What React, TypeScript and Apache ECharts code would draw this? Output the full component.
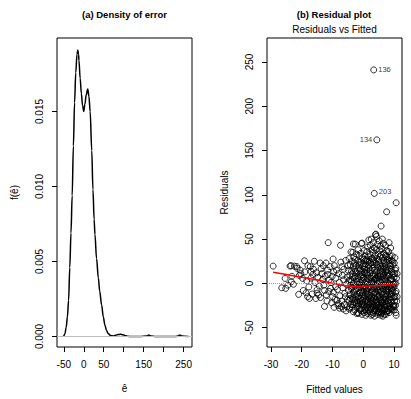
import React, { useEffect, useRef } from "react";
import * as echarts from "echarts";

// ---------- Panel (a): density of error ----------
const densityX = [
  -52, -50, -47, -44, -41, -38, -35, -32, -29, -26, -23, -20, -17, -15, -13, -12, -9, -6, -3, 0,
  3, 6, 10, 13, 16, 20, 23, 26, 28, 32, 36.5, 40, 44.7, 49, 53, 57, 61, 67, 74, 80, 86, 92, 98,
  104, 110, 120, 140, 158, 163, 168, 180, 230, 236, 240, 245, 262,
];
const densityY = [
  0, 0.00003, 0.0002, 0.0006, 0.0013, 0.0024, 0.0046, 0.0069, 0.0094, 0.0127, 0.0156, 0.0176,
  0.0188, 0.0191, 0.0188, 0.0184, 0.0172, 0.0162, 0.0154, 0.015, 0.0155, 0.0161, 0.0165, 0.016,
  0.015, 0.0124, 0.0098, 0.0078, 0.0068, 0.0052, 0.0039, 0.003, 0.0021, 0.0013, 0.00075, 0.0004,
  0.0002, 0.00006, 0.00004, 0.00008, 0.00013, 0.00015, 0.00012, 0.00005, 0.00001, 0, 0, 0.00003,
  0.0001, 0.00003, 0, 0, 0.00004, 0.0001, 0.00004, 0,
];
const densityXTicks = [-50, 0, 50, 100, 150, 200, 250];
const densityXLabels = [-50, 0, 50, 150, 250];
const densityYTicks = [0, 0.005, 0.01, 0.015];

// ---------- Panel (b): residuals vs fitted ----------
const residualPoints: [number, number][] = [
  // sparse left part
  [-29.3, 19.5], [-26.5, -5], [-25.4, 5.6], [-25.2, -5.6], [-24.5, -2], [-23.8, 19.5], [-23.5, 20],
  [-23.4, 1.8], [-23.2, 8], [-22.7, -1], [-22.4, 19.5], [-21.6, 19], [-21.5, 17], [-21.0, -12.4],
  [-20.5, 15], [-20.3, 11], [-20.8, 9], [-19.7, 5.6], [-19.5, -8], [-19.1, 25.5], [-19.0, 13],
  [-18.6, -10.6], [-18.4, 3], [-18.1, -15], [-18.0, 20], [-17.7, -4], [-17.5, -17], [-17.2, 19],
  [-17.0, 13.5], [-17.0, 6], [-16.6, -12], [-16.4, 10], [-16.2, 16], [-15.9, 25], [-15.7, 1],
  [-15.4, -17], [-15.2, 12], [-15.0, -7], [-15.0, -11], [-14.7, 7], [-14.5, -13], [-14.3, -3],
  [-14.0, 23], [-13.9, -16], [-13.7, 16.5], [-13.5, 11], [-13.2, 4.5], [-13.0, 20], [-12.8, -2],
  [-12.6, -8], [-12.6, -26], [-12.4, 8], [-12.1, 23], [-12.0, -13], [-11.8, -20], [-11.6, 15],
  [-11.5, 10], [-11.4, 46], [-11.2, -9], [-11.1, 4], [-10.8, 19], [-10.6, -5.6], [-10.5, 1],
  [-10.3, -22], [-10.1, 8], [-10.0, -15], [-9.8, 27.5], [-9.7, -10], [-9.6, 13], [-9.5, -27],
  [-9.4, 20], [-9.2, -18], [-9.0, -3.7], [-8.9, 6], [-8.7, 15], [-8.5, -19], [-8.4, -7],
  [-8.2, -25], [-8.0, -23], [-8.0, 11], [-7.8, 1], [-7.7, -28], [-7.6, -14], [-7.4, 43],
  [-7.3, 24], [-7.1, -26], [-7.0, -20], [-6.9, 19], [-6.8, 9], [-6.6, -5], [-6.5, -29], [-6.4, 4],
  [-6.3, 16], [-6.1, -24], [-6.0, -11], [-5.8, -15], [-5.7, 26], [-5.6, -31], [-5.5, -1],
  [-5.3, -26.5], [-5.3, 7], [-5.1, -18], [-5.0, 20],
  // dense part
  [-4.6, 28], [-4.2, 21], [-4.9, 15], [-4.4, 9], [-4.7, 3], [-4.1, -2], [-4.8, -8], [-4.3, -13],
  [-4.6, -19], [-4.0, -24], [-4.5, -29], [-3.8, 14], [-3.9, -6], [-4.0, 35.5],
  [-3.4, 35], [-3.1, 30], [-3.6, 25], [-3.2, 19], [-3.5, 11], [-3.0, 6], [-3.3, 0], [-3.7, -5],
  [-3.1, -10], [-3.4, -16], [-3.0, -21], [-3.6, -27], [-3.2, -32], [-2.9, 23], [-3.2, 44.5],
  [-2.6, 27], [-2.2, 33], [-2.8, 16], [-2.3, 12], [-2.5, 8], [-2.1, 2], [-2.7, -3], [-2.4, -7],
  [-2.0, -12], [-2.6, -18], [-2.3, -23], [-2.8, -30], [-2.1, -34], [-2.4, 20], [-2.6, 44.3],
  [-1.7, 38], [-1.3, 31], [-1.8, 26], [-1.2, 21], [-1.5, 17], [-1.1, 10], [-1.6, 5], [-1.4, -1],
  [-1.9, -6], [-1.2, -11], [-1.6, -15], [-1.0, -20], [-1.5, -25], [-1.3, -29], [-1.8, -33],
  [-1.1, 14], [-1.5, -34],
  [-0.6, 45], [-0.8, 34], [-0.3, 29], [-0.7, 24], [-0.2, 19], [-0.5, 13], [-0.9, 8], [-0.4, 3],
  [-0.1, -3], [-0.6, -8], [-0.3, -13], [-0.8, -17], [-0.2, -22], [-0.5, -27], [-0.7, -31],
  [-0.4, -35], [-0.1, 6], [-0.4, 45.5],
  [0.3, 37], [0.6, 31], [0.2, 27], [0.8, 22], [0.4, 16], [0.9, 11], [0.1, 7], [0.5, 1], [0.7, -4],
  [0.2, -9], [0.6, -14], [0.9, -19], [0.3, -24], [0.7, -28], [0.4, -33], [0.8, -36], [0.5, 19],
  [1.4, 41], [1.2, 36], [1.7, 30], [1.3, 25], [1.8, 20], [1.1, 15], [1.5, 9], [1.9, 4], [1.2, -1],
  [1.6, -6], [1.3, -11], [1.8, -16], [1.4, -21], [1.1, -26], [1.7, -30], [1.5, -34], [1.8, 49],
  [1.2, 12],
  [2.6, 50], [2.3, 43], [2.8, 38], [2.2, 33], [2.7, 28], [2.4, 23], [2.9, 17], [2.1, 12], [2.5, 6],
  [2.8, 0], [2.3, -5], [2.6, -10], [2.1, -14], [2.9, -19], [2.4, -23], [2.7, -28], [2.2, -32],
  [2.5, -36], [2.8, 8],
  [3.3, 46], [3.6, 40], [3.2, 35], [3.8, 31], [3.4, 26], [3.1, 21], [3.7, 15], [3.3, 10], [3.9, 5],
  [3.5, -1], [3.2, -6], [3.8, -11], [3.4, -16], [3.1, -20], [3.6, -25], [3.9, -29], [3.3, -33],
  [3.7, -37], [3.5, 18],
  [4.0, 55], [4.3, 53], [4.6, 44], [4.2, 38], [4.8, 33], [4.4, 28], [4.1, 23], [4.7, 18], [4.3, 13],
  [4.9, 8], [4.5, 3], [4.2, -3], [4.8, -8], [4.4, -13], [4.1, -18], [4.6, -22], [4.9, -27],
  [4.3, -31], [4.7, -35], [4.5, 0], [4.1, 55.6],
  [5.2, 48], [5.6, 42], [5.3, 37], [5.8, 32], [5.1, 27], [5.5, 22], [5.9, 17], [5.4, 11], [5.0, 6],
  [5.7, 1], [5.3, -4], [5.8, -9], [5.2, -14], [5.6, -19], [5.1, -24], [5.9, -28], [5.4, -32],
  [5.7, -36], [5.5, 14], [5.8, 64.7],
  [6.2, 50], [6.5, 45], [6.1, 39], [6.7, 34], [6.3, 29], [6.8, 24], [6.4, 19], [6.0, 14], [6.6, 9],
  [6.2, 4], [6.9, -1], [6.5, -6], [6.1, -11], [6.7, -16], [6.3, -21], [6.8, -25], [6.4, -30],
  [6.0, -34], [6.4, -37], [6.6, 26],
  [7.2, 43], [7.6, 37], [7.3, 32], [7.8, 27], [7.1, 22], [7.5, 17], [7.9, 12], [7.4, 7], [7.0, 2],
  [7.7, -3], [7.3, -8], [7.8, -13], [7.2, -18], [7.6, -23], [7.1, -27], [7.9, -31], [7.4, -35],
  [7.5, 30], [7.6, 80.8],
  [8.4, 46], [8.2, 36], [8.7, 31], [8.3, 26], [8.8, 20], [8.1, 15], [8.5, 10], [8.9, 5], [8.2, 0],
  [8.6, -5], [8.3, -10], [8.8, -15], [8.1, -20], [8.5, -25], [8.9, -29], [8.4, -33], [8.7, 22],
  [9.4, 31], [8.9, 40], [9.2, 26], [9.6, 21], [9.1, 16], [9.7, 10], [9.3, 5], [9.8, -1], [9.2, -6],
  [9.5, -11], [9.9, -16], [9.3, -21], [9.6, -26], [9.4, -30], [9.1, -12], [9.9, -25],
  [10.3, 29], [10.1, 23], [10.6, 17], [10.2, 11], [10.8, 6], [10.4, 1], [10.0, -4], [10.7, -9],
  [10.3, -15], [10.9, -20], [10.5, -25], [10.1, -30], [10.7, -36], [11.0, 11], [11.0, -15],
  [10.6, -33], [10.7, 91],
  // extra core points
  [0.1, -17], [0.5, -30], [1.0, 3], [1.5, -18], [2.0, 25], [2.4, -3], [3.0, 1], [3.5, -21],
  [4.0, 10], [4.5, -25], [5.0, -10], [5.4, 30], [6.0, -3], [6.4, 11], [7.0, -20], [7.4, -12],
  [8.0, -8], [8.5, -29], [-0.3, -19], [-1.0, 1], [-2.0, -26], [-3.0, -13], [1.0, -31], [2.0, -27],
  [3.0, -24], [4.0, -29], [5.0, -32], [6.0, -28], [7.0, -30], [8.0, -26], [0.0, 22], [1.0, 27],
  [3.0, 28], [5.0, 25], [7.0, 19], [9.0, 3], [9.5, -3], [10.0, -26], [2.7, -16], [5.5, -16],
  [1.3, -23], [6.9, 6], [3.9, -10], [0.9, -12], [-0.9, -10], [-1.9, -20], [-2.9, -8], [3.6, 4],
  [5.9, -21], [7.7, 9],
  [0.2, -26], [0.6, -21], [0.9, -6], [0.4, 12], [0.7, 26], [1.1, -9], [1.4, -28], [1.6, 1],
  [1.9, -13], [1.7, 17], [2.2, -20], [2.5, -29], [2.7, 2], [2.9, -8], [2.3, 15], [3.1, -27],
  [3.4, -12], [3.6, -31], [3.8, 8], [3.2, 24], [4.2, -26], [4.4, -6], [4.6, -15], [4.8, -33],
  [4.1, 6], [4.4, 21], [5.1, -29], [5.3, -18], [5.6, -7], [5.8, -25], [5.2, 3], [5.5, 9],
  [5.7, 19], [6.1, -22], [6.3, -32], [6.5, -13], [6.8, -3], [6.2, 7], [6.6, 16], [6.9, -35],
  [7.1, -24], [7.3, -15], [7.6, -32], [7.8, -6], [7.2, 4], [7.5, 14], [7.7, 24], [8.1, -31],
  [8.3, -22], [8.6, -12], [8.8, -2], [8.2, 8], [8.6, 17], [8.4, 29], [9.0, -19], [9.2, -28],
  [9.5, -8], [9.7, 2], [9.3, 13], [9.6, 25], [10.2, -20], [10.5, -11], [10.4, -1], [10.0, 7],
  [10.4, 15], [-0.5, -24], [-0.8, -29], [-0.2, -11], [-0.6, -2], [-0.3, 10], [-0.9, 16],
  [-1.4, -17], [-1.7, -22], [-1.2, -4], [-1.8, 7], [-1.4, 24], [-2.3, -15], [-2.7, -22],
  [-2.1, -1], [-2.5, 14], [-3.3, -24], [-3.6, -18], [-3.8, 2], [-3.4, 8], [-4.2, -17],
  [-4.4, -27], [-4.1, 4], [0.4, -3], [1.3, 6], [2.4, -18], [3.4, -4], [4.3, -21], [5.4, -27],
  [6.4, -18], [7.4, -4], [8.5, -18], [1.9, -24], [3.0, -35], [5.9, -33], [7.9, -20],
];
const outlierLabels = ["136", "134", "203"];
const outlierFitted = [3.4, 4.4, 3.6];
const outlierResid = [241, 162, 101.6];
const lowessX = [-29.3, -25, -20, -15, -10, -6, -3, 0, 4, 8, 11.2];
const lowessY = [12.5, 10, 6.8, 3.8, 0.3, -2.6, -3.6, -3.3, -2.6, -1.6, 0];
const residXTicks = [-30, -20, -10, 0, 10];
const residYTicks = [-50, 0, 50, 100, 150, 200, 250];

const FONT = "'Liberation Sans', Arial, Helvetica, sans-serif";

export default function App() {
  const ref = useRef<HTMLDivElement>(null);
  useEffect(() => {
    if (!ref.current) return;
    const chart = echarts.init(ref.current, undefined, { renderer: "svg" });
    const txt = { color: "#000", fontFamily: FONT, fontSize: 10 };
    const tick = { show: true, length: 5, lineStyle: { color: "#000", width: 1 } };
    const noLine = { show: false, onZero: false };
    const outlierPos = ["right", "left", "right"];
    const option: any = {
      animation: false,
      backgroundColor: "#fff",
      textStyle: { fontFamily: FONT },
      graphic: [
        {
          type: "text", x: 124.5, y: 14,
          style: { text: "(a) Density of error", font: `bold 9.5px ${FONT}`, fill: "#000", align: "center", verticalAlign: "middle" },
        },
        {
          type: "text", x: 334, y: 14,
          style: { text: "(b) Residual plot", font: `bold 9.5px ${FONT}`, fill: "#000", align: "center", verticalAlign: "middle" },
        },
        {
          type: "text", x: 334.5, y: 29.5,
          style: { text: "Residuals vs Fitted", font: `10px ${FONT}`, fill: "#000", align: "center", verticalAlign: "middle" },
        },
      ],
      grid: [
        { left: 57, top: 38, width: 135, height: 309, show: true, borderColor: "#000", borderWidth: 1, backgroundColor: "transparent" },
        { left: 267, top: 38, width: 135, height: 309, show: true, borderColor: "#000", borderWidth: 1, backgroundColor: "transparent" },
      ],
      xAxis: [
        {
          type: "value", gridIndex: 0, min: -67, max: 271,
          axisLine: noLine, splitLine: { show: false },
          axisTick: { ...tick, customValues: densityXTicks },
          axisLabel: { ...txt, margin: 12, customValues: densityXLabels },
          name: "ê", nameLocation: "middle", nameGap: 36, nameTextStyle: { ...txt },
        },
        {
          type: "value", gridIndex: 1, min: -31.3, max: 12.6,
          axisLine: noLine, splitLine: { show: false },
          axisTick: { ...tick, customValues: residXTicks },
          axisLabel: { ...txt, margin: 12, customValues: residXTicks },
          name: "Fitted values", nameLocation: "middle", nameGap: 37, nameTextStyle: { ...txt },
        },
      ],
      yAxis: [
        {
          type: "value", gridIndex: 0, min: -0.0007, max: 0.0199,
          axisLine: noLine, splitLine: { show: false },
          axisTick: { ...tick, customValues: densityYTicks },
          axisLabel: { ...txt, margin: 13, rotate: 90, customValues: densityYTicks, formatter: (v: number) => v.toFixed(3) },
          name: "f(ê)", nameLocation: "middle", nameRotate: 90, nameGap: 38, nameTextStyle: { ...txt },
        },
        {
          type: "value", gridIndex: 1, min: -71.8, max: 277,
          axisLine: noLine, splitLine: { show: false },
          axisTick: { ...tick, customValues: residYTicks },
          axisLabel: { ...txt, margin: 13, rotate: 90, customValues: residYTicks },
          name: "Residuals", nameLocation: "middle", nameRotate: 90, nameGap: 38, nameTextStyle: { ...txt },
        },
      ],
      series: [
        {
          type: "line", xAxisIndex: 0, yAxisIndex: 0,
          data: densityX.map((x, i) => [x, densityY[i]]),
          showSymbol: false, symbol: "none", smooth: 0.35, smoothMonotone: "x",
          lineStyle: { color: "#000", width: 1.5 },
          markLine: {
            silent: true, symbol: "none", label: { show: false },
            lineStyle: { color: "#bebebe", type: "solid", width: 1 },
            data: [{ yAxis: 0 }],
          },
          z: 3,
        },
        {
          type: "scatter", xAxisIndex: 1, yAxisIndex: 1,
          data: residualPoints,
          symbol: "circle", symbolSize: 6,
          itemStyle: { color: "rgba(0,0,0,0)", borderColor: "#000", borderWidth: 1 },
          markLine: {
            silent: true, symbol: "none", label: { show: false },
            lineStyle: { color: "#999", type: "dotted", width: 1 },
            data: [{ yAxis: 0 }],
          },
          emphasis: { disabled: true },
          z: 2,
        },
        {
          type: "scatter", xAxisIndex: 1, yAxisIndex: 1,
          data: outlierLabels.map((name, i) => ({
            value: [outlierFitted[i], outlierResid[i]],
            label: {
              show: true, formatter: name, position: outlierPos[i], distance: 1,
              color: "#000", fontSize: 7.5, fontFamily: FONT,
              ...(i === 2 ? { offset: [0, -1.5] } : {}),
            },
          })),
          symbol: "circle", symbolSize: 6,
          itemStyle: { color: "rgba(0,0,0,0)", borderColor: "#000", borderWidth: 1 },
          emphasis: { disabled: true },
          z: 2,
        },
        {
          type: "line", xAxisIndex: 1, yAxisIndex: 1,
          data: lowessX.map((x, i) => [x, lowessY[i]]),
          showSymbol: false, symbol: "none", smooth: 0.4,
          lineStyle: { color: "#ff0000", width: 1.5 },
          z: 4,
        },
      ],
    };
    chart.setOption(option);
    return () => chart.dispose();
  }, []);
  return <div ref={ref} style={{ position: "fixed", left: 0, top: 0, width: 411, height: 399 }} />;
}
